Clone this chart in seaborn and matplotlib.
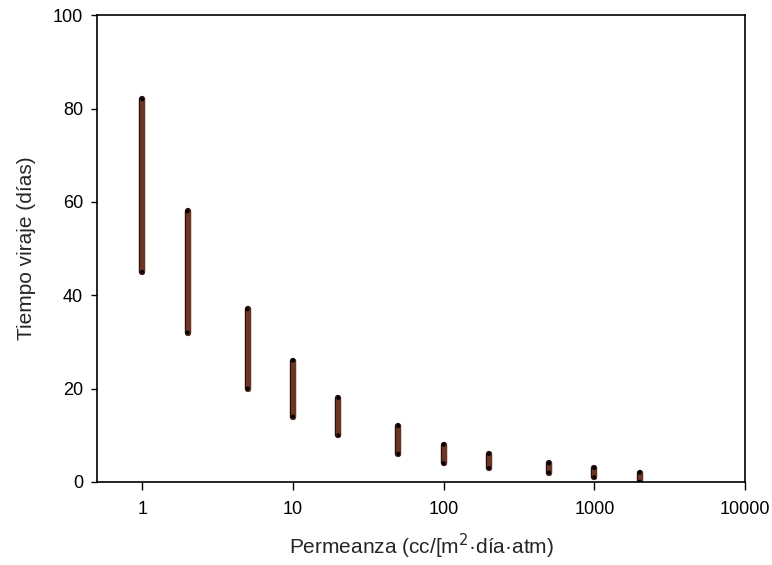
import matplotlib
matplotlib.use("Agg")
import matplotlib.pyplot as plt
import matplotlib.patheffects as pe
import numpy as np
import pandas as pd
import seaborn as sns

# ─── Data ─────────────────────────────────────────────────────────────────────
permeanza = [1, 2, 5, 10, 20, 50, 100, 200, 500, 1000, 2000]
tiempo_min = [45, 32, 20, 14, 10, 6, 4, 3, 2, 1, 0]
tiempo_max = [82, 58, 37, 26, 18, 12, 8, 6, 4, 3, 2]

x_ticks = [1, 10, 100, 1000, 10000]
x_ticklabels = ["1", "10", "100", "1000", "10000"]
y_ticks = [0, 20, 40, 60, 80, 100]

# long format: two points (min, max) per permeance value
df = pd.DataFrame({
    "x": permeanza + permeanza,
    "y": tiempo_min + tiempo_max,
    "g": list(range(len(permeanza))) * 2,
})

sns.set_style("white")
plt.rcParams["font.family"] = ["Liberation Sans", "DejaVu Sans"]

fig = plt.figure(figsize=(7.72, 5.65), dpi=100)
ax = fig.add_axes([0.1256, 0.147, 0.8394, 0.826])

sns.lineplot(data=df, x="x", y="y", units="g", estimator=None, ax=ax,
             color="#6b3424", linewidth=3.6, solid_capstyle="round",
             path_effects=[pe.Stroke(linewidth=4.6, foreground="#2a120c"), pe.Normal()])
sns.scatterplot(data=df, x="x", y="y", ax=ax, color="black", s=9,
                edgecolor="none", zorder=5)

ax.set_xscale("log")
ax.set_xlim(0.5, 10000)
ax.set_ylim(0, 100)
ax.set_xticks(x_ticks)
ax.set_xticklabels(x_ticklabels)
ax.set_yticks(y_ticks)
ax.minorticks_off()
ax.tick_params(axis="both", direction="out", width=1, labelsize=13,
               bottom=True, left=True, color="black", labelcolor="black")
ax.tick_params(axis="x", length=6, pad=8)
ax.tick_params(axis="y", length=4, pad=6)

for s in ax.spines.values():
    s.set_color("black")
    s.set_linewidth(1.2)

ax.set_xlabel("Permeanza (cc/[m$^2$·día·atm)", fontsize=15, labelpad=10)
ax.set_ylabel("Tiempo viraje (días)", fontsize=15, labelpad=12)

fig.savefig("out.png", dpi=100)
